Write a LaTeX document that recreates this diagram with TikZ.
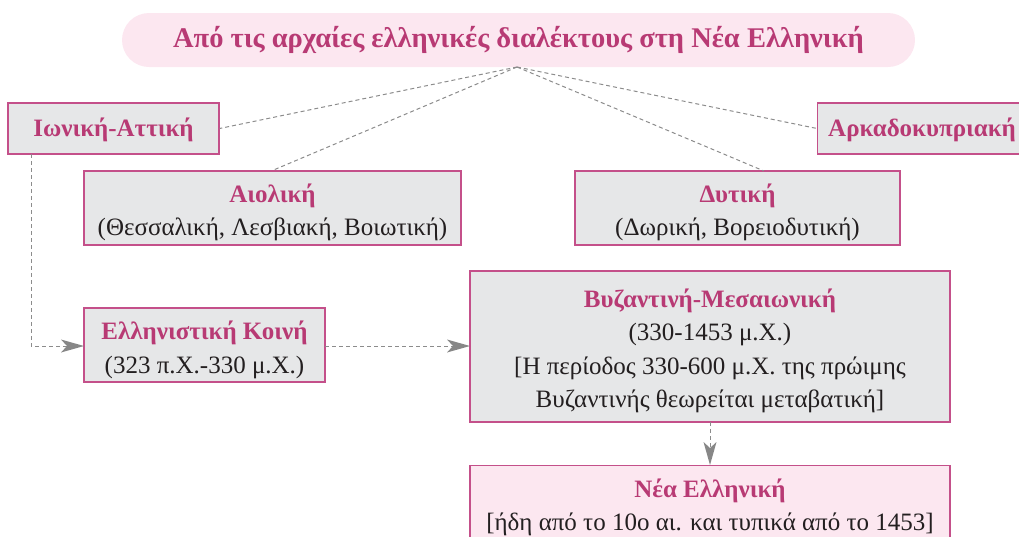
\documentclass[tikz,border=0pt]{standalone}
\usepackage{fontspec}
\setmainfont{Liberation Serif}
\usetikzlibrary{arrows.meta}
\definecolor{mag}{HTML}{B83A74}
\definecolor{bord}{HTML}{C4508A}
\definecolor{boxgray}{HTML}{E6E7E8}
\definecolor{boxpink}{HTML}{FCE7F0}
\definecolor{dashgray}{HTML}{8C8C8C}
\definecolor{headgray}{HTML}{878787}
\definecolor{txt}{HTML}{231F20}
\tikzset{
  graybox/.style={draw=bord, line width=1.1pt, fill=boxgray, inner sep=0pt},
  pinkbox/.style={graybox, fill=boxpink},
  lbl/.style={inner sep=0pt, align=center, font=\fontsize{25}{33.5}\selectfont, text=txt},
  conn/.style={dashgray, dash pattern=on 4pt off 3pt, line width=1pt},
  arr/.style={conn, shorten >=15pt},
  headstyle/.style={fill=headgray},
}
\newcommand{\hd}[1]{\textcolor{mag}{\textbf{#1}}}
\begin{document}
\begin{tikzpicture}[x=1pt,y=-1pt]
\useasboundingbox (0,0) rectangle (1019,536);
\node[fill=boxpink, rounded corners=27pt, minimum width=793pt, minimum height=54pt, inner sep=0pt, font=\fontsize{28.5}{32}\selectfont\bfseries, text=mag] (title) at (518.5,40) {Από τις αρχαίες ελληνικές διαλέκτους στη Νέα Ελληνική};
\coordinate (tp) at (517,67);
% boxes
\node[graybox, minimum width=211pt, minimum height=51pt] (ion) at (113.5,128.5) {};
\node[graybox, minimum width=213pt, minimum height=51pt, anchor=west] (ark) at (817,128.5) {};
\node[graybox, minimum width=377pt, minimum height=74pt] (aio) at (272.5,208) {};
\node[graybox, minimum width=325pt, minimum height=74pt] (dyt) at (737.5,208) {};
\node[graybox, minimum width=241pt, minimum height=74pt] (ell) at (204.5,345) {};
\node[graybox, minimum width=480pt, minimum height=151pt] (byz) at (710,346.5) {};
\node[pinkbox, minimum width=480pt, minimum height=80pt, anchor=north] (nea) at (710,465) {};
% labels
\node[lbl] (ionT) at ([yshift=-1pt]ion.center) {\hd{Ιωνική-Αττική}};
\node[lbl, anchor=west] (arkT) at ([xshift=11pt,yshift=-1pt]ark.west) {\hd{Αρκαδοκυπριακή}};
\node[lbl] (aioT) at ([yshift=-4.5pt]aio.center) {\hd{Αιολική}\\(Θεσσαλική, Λεσβιακή, Βοιωτική)};
\node[lbl] (dytT) at ([yshift=-4.5pt]dyt.center) {\hd{Δυτική}\\(Δωρική, Βορειοδυτική)};
\node[lbl] (ellT) at ([yshift=-5pt]ell.center) {\hd{Ελληνιστική Κοινή}\\(323 π.Χ.-330 μ.Χ.)};
\node[lbl] (byzT) at ([yshift=-4.5pt]byz.center) {\hd{Βυζαντινή-Μεσαιωνική}\\(330-1453 μ.Χ.)\\{}[Η περίοδος 330-600 μ.Χ. της πρώιμης\\Βυζαντινής θεωρείται μεταβατική]};
\node[lbl] (neaT) at ([yshift=-2pt]nea.center) {\hd{Νέα Ελληνική}\\{}[ήδη από το 10ο αι. και τυπικά από το 1453]};
% connectors
\coordinate (dytin) at (764,171);
\coordinate (ionb) at (31,154);
\coordinate (corner) at (31,346);
\coordinate (ellin) at (84,346);
\coordinate (ellr) at (325,346);
\coordinate (byzl) at (470,346);
\coordinate (byzb) at (710,422);
\coordinate (neat) at (710,465);
\draw[conn] (tp) -- (ion.east);
\draw[conn] (tp) -- (aio.north);
\draw[conn] (tp) -- (dytin);
\draw[conn] (tp) -- (ark.west);
\draw[arr] (ionb) -- (corner) -- (ellin);
\draw[arr] (ellr) -- (byzl);
\draw[arr] (byzb) -- (neat);
% arrowheads
\fill[headstyle] (ellin) -- ++(-23,-6.5) -- ++(6,6.5) -- ++(-6,6.5) -- cycle;
\fill[headstyle] (byzl) -- ++(-23,-6.5) -- ++(6,6.5) -- ++(-6,6.5) -- cycle;
\fill[headstyle] (neat) -- ++(-6.5,-23) -- ++(6.5,6) -- ++(6.5,-6) -- cycle;
\end{tikzpicture}
\end{document}
